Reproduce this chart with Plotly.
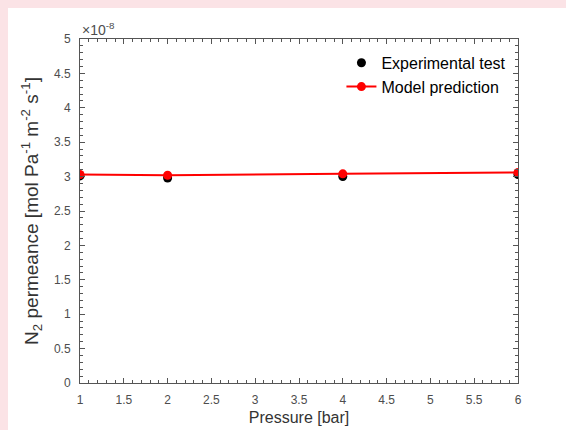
import plotly.graph_objects as go

pressure = [1, 2, 4, 6]
experimental_e8 = [3.01, 2.98, 3.00, 3.03]   # permeance in units of 1e-8
model_e8 = [3.03, 3.02, 3.04, 3.06]

x_ticks = [1, 1.5, 2, 2.5, 3, 3.5, 4, 4.5, 5, 5.5, 6]
y_ticks = [0, 0.5, 1, 1.5, 2, 2.5, 3, 3.5, 4, 4.5, 5]

W, H = 566, 430
L, R, T, B = 80, 48, 39, 47
pw, ph = W - L - R, H - T - B

FONT = "Liberation Sans, Arial"

fig = go.Figure()
fig.add_trace(go.Scatter(
    x=pressure, y=experimental_e8, mode="markers", name="Experimental test",
    marker=dict(color="black", size=9)))
fig.add_trace(go.Scatter(
    x=pressure, y=model_e8, mode="lines+markers", name="Model prediction",
    line=dict(color="#ff0000", width=2), marker=dict(color="#ff0000", size=9)))

axis_common = dict(
    showgrid=False, zeroline=False, showline=True, linecolor="#555555", linewidth=1,
    mirror="ticks", ticks="inside", ticklen=5, tickcolor="#555555", automargin=False,
    tickfont=dict(family=FONT, size=12, color="#4d4d4d"),
)

fig.update_layout(
    width=W, height=H,
    margin=dict(l=L, r=R, t=T, b=B),
    paper_bgcolor="#fbe3e6", plot_bgcolor="white",
    showlegend=True,
    legend=dict(x=0.985, y=0.98, xanchor="right", yanchor="top",
                bgcolor="rgba(255,255,255,0)",
                font=dict(family=FONT, size=16, color="black"),
                tracegroupgap=0, itemwidth=30),
    xaxis=dict(range=[1, 6], tickvals=x_ticks, ticktext=[f"{v:g}" for v in x_ticks],
               ticklabelstandoff=6,
               minor=dict(ticks="inside", ticklen=3, dtick=0.1, tickcolor="#555555"),
               title=dict(text="Pressure [bar]", standoff=5,
                          font=dict(family=FONT, size=16, color="#333333")),
               **axis_common),
    yaxis=dict(range=[0, 5], tickvals=y_ticks, ticktext=[f"{v:g}" for v in y_ticks],
               ticklabelstandoff=6,
               minor=dict(ticks="inside", ticklen=3, dtick=0.1, tickcolor="#555555"),
               title=dict(text="N<sub>2</sub> permeance [mol Pa<sup>-1</sup> m<sup>-2</sup> s<sup>-1</sup>]",
                          standoff=10,
                          font=dict(family=FONT, size=19, color="#333333")),
               **axis_common),
    shapes=[dict(type="rect", xref="paper", yref="paper", layer="below",
                 x0=(8 - L) / pw, x1=(W - L) / pw + 0.01,
                 y0=(H - B - H) / ph - 0.01, y1=(H - B - 8) / ph,
                 fillcolor="white", line=dict(width=0))],
    annotations=[dict(text="×10<sup>-8</sup>", xref="paper", yref="paper",
                      x=0.0, y=1.0, xanchor="left", yanchor="bottom", showarrow=False,
                      xshift=0, yshift=-1,
                      font=dict(family=FONT, size=14, color="#4d4d4d"))],
)

fig.write_html("out.html")
